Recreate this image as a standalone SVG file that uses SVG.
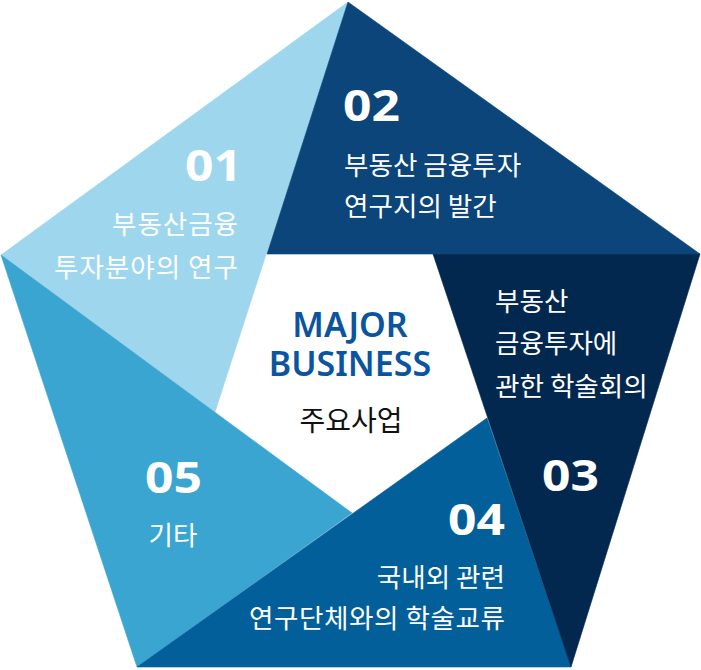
<svg xmlns="http://www.w3.org/2000/svg" width="701" height="670" viewBox="0 0 701 670">
<style>
.seg{stroke-width:0.6;stroke-linejoin:round}
.num{font-family:"Noto Sans","Liberation Sans",sans-serif;font-weight:700;font-size:43px;fill:#ffffff}
.kr{font-family:"Noto Sans CJK KR","Noto Sans",sans-serif;font-weight:400;font-size:26.6px;fill:#ffffff}
.en{font-family:"Noto Sans","Liberation Sans",sans-serif;font-weight:600;font-size:34px;fill:#0b559f;text-anchor:middle}
.ctr{font-family:"Noto Sans CJK KR","Noto Sans",sans-serif;font-weight:400;font-size:28px;fill:#111111;text-anchor:middle}
.end{text-anchor:end}
.mid{text-anchor:middle}
</style>
<rect width="701" height="670" fill="#ffffff"/>
<g id="segments">
<g id="seg01"><polygon class="seg" points="348,2 1,255 215,412" fill="#9ed6ee" stroke="#9ed6ee"/></g>
<g id="seg05"><polygon class="seg" points="1,255 137,667 352,513" fill="#3ba5d2" stroke="#3ba5d2"/></g>
<g id="seg04"><polygon class="seg" points="137,667 571,667 487,418" fill="#035f99" stroke="#035f99"/></g>
<g id="seg03"><polygon class="seg" points="571,667 700,254 433,254" fill="#03284f" stroke="#03284f"/></g>
<g id="seg02"><polygon class="seg" points="700,254 348,2 267,254" fill="#0c4579" stroke="#0c4579"/></g>
</g>
<g id="node01">
<text class="num" x="185" y="181" textLength="57" lengthAdjust="spacingAndGlyphs">01</text>
<text class="kr end" x="238" y="234" textLength="126" lengthAdjust="spacing">부동산금융</text>
<text class="kr end" x="238" y="277" textLength="184" lengthAdjust="spacing">투자분야의 연구</text>
</g>
<g id="node02">
<text class="num" x="343" y="121" textLength="57" lengthAdjust="spacingAndGlyphs">02</text>
<text class="kr" x="344" y="175">부동산 금융투자</text>
<text class="kr" x="344" y="216">연구지의 발간</text>
</g>
<g id="node03">
<text class="kr" x="495" y="311">부동산</text>
<text class="kr" x="495" y="353">금융투자에</text>
<text class="kr" x="495" y="396">관한 학술회의</text>
<text class="num" x="542" y="490.5" textLength="57" lengthAdjust="spacingAndGlyphs">03</text>
</g>
<g id="node04">
<text class="num" x="448" y="534.5" textLength="57" lengthAdjust="spacingAndGlyphs">04</text>
<text class="kr end" x="505" y="586.5">국내외 관련</text>
<text class="kr end" x="505" y="628" textLength="256" lengthAdjust="spacing">연구단체와의 학술교류</text>
</g>
<g id="node05">
<text class="num" x="145" y="493" textLength="57" lengthAdjust="spacingAndGlyphs">05</text>
<text class="kr mid" x="173" y="545">기타</text>
</g>
<g id="center">
<text class="en" x="350" y="337">MAJOR</text>
<text class="en" x="350" y="376">BUSINESS</text>
<text class="ctr" x="351" y="431">주요사업</text>
</g>
<g id="connectors"/>
</svg>
